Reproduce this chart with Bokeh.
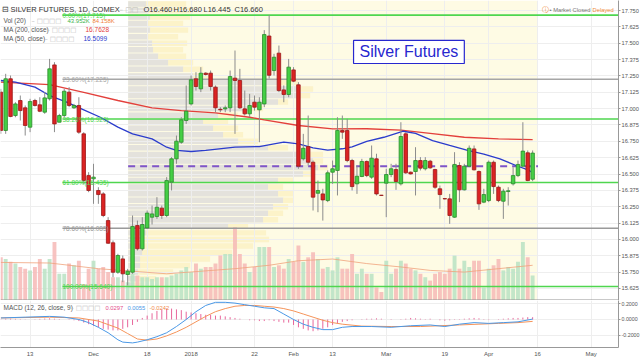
from bokeh.plotting import figure
from bokeh.models import Range1d, FixedTicker, Grid, Label, PrintfTickFormatter, ColumnDataSource, Span
from bokeh.layouts import column
from bokeh.embed import file_html
from bokeh.resources import INLINE
from bokeh.core.properties import value

# ---------------- data ----------------
open_p = [17.126,16.833,17.228,16.947,17.062,17.006,16.858,17.062,17.029,16.973,
          17.075,17.334,16.896,16.947,17.126,17.006,17.024,16.807,16.488,16.463,
          16.374,16.348,16.144,15.974,15.749,15.851,15.732,15.749,16.106,15.928,
          16.088,16.170,16.175,16.239,16.183,16.438,16.616,16.743,16.909,17.036,
          17.228,17.151,17.271,17.271,17.164,16.995,16.998,17.006,17.233,17.215,
          16.998,16.960,17.049,16.991,17.036,17.555,17.291,17.424,17.143,17.108,
          17.296,17.182,16.616,16.710,16.590,16.353,16.348,16.297,16.514,16.527,
          16.833,16.833,16.603,16.425,16.481,16.596,16.476,16.616,16.338,16.430,
          16.496,16.534,16.425,16.807,16.514,16.519,16.603,16.540,16.598,16.534,
          16.387,16.312,16.310,16.170,16.565,16.379,16.560,16.692,16.519,16.285,
          16.297,16.590,16.399,16.292,16.366,16.425,16.488,16.560,16.662,16.460]
high_p = [17.151,17.266,17.253,17.049,17.100,17.024,17.075,17.075,17.087,17.126,
          17.380,17.355,16.960,17.151,17.164,17.036,17.087,16.820,16.514,16.578,
          16.399,16.361,16.170,15.992,15.890,15.877,15.775,16.183,16.144,16.170,
          16.221,16.259,16.323,16.259,16.476,16.629,16.794,16.934,17.177,17.253,
          17.278,17.317,17.278,17.291,17.177,17.011,17.024,17.291,17.444,17.304,
          17.138,17.113,17.100,17.087,17.600,17.715,17.419,17.482,17.177,17.380,
          17.317,17.202,16.807,16.947,16.603,16.450,16.387,16.527,16.603,16.934,
          16.947,16.922,16.616,16.565,16.616,16.603,16.718,16.655,16.340,16.540,
          16.578,16.578,16.896,16.820,16.519,16.705,16.629,16.629,16.608,16.540,
          16.412,16.315,16.348,16.667,16.590,16.578,16.718,16.718,16.527,16.387,
          16.603,16.603,16.412,16.387,16.399,16.552,16.603,16.896,16.680,16.680]
low_p = [16.807,16.807,16.934,16.934,16.909,16.794,16.820,17.016,16.973,16.960,
         17.062,16.820,16.896,16.934,17.011,16.998,16.807,16.425,16.361,16.272,
         16.272,16.170,15.966,15.711,15.737,15.673,15.648,15.737,15.915,15.915,
         16.081,16.114,16.157,16.157,16.170,16.374,16.578,16.731,16.883,17.024,
         17.138,17.126,17.253,17.138,16.973,16.973,16.973,16.973,16.807,16.998,
         16.947,16.934,16.985,16.743,17.011,17.230,17.253,17.126,17.049,17.087,
         17.202,16.540,16.603,16.565,16.221,16.208,16.144,16.285,16.425,16.336,
         16.769,16.590,16.374,16.348,16.476,16.476,16.463,16.336,16.333,16.170,
         16.476,16.379,16.412,16.501,16.496,16.336,16.527,16.527,16.540,16.387,
         16.234,16.305,16.119,16.165,16.285,16.374,16.552,16.527,16.226,16.277,
         16.285,16.348,16.285,16.157,16.259,16.412,16.476,16.552,16.445,16.445]
close_p = [16.833,17.228,16.940,17.036,16.985,16.871,17.054,17.024,16.980,17.082,
           17.304,16.883,16.947,17.133,17.024,17.024,16.820,16.450,16.374,16.476,
           16.343,16.183,15.971,15.749,15.877,15.737,15.757,16.099,15.928,16.114,
           16.201,16.195,16.246,16.183,16.450,16.616,16.751,16.914,16.980,17.220,
           17.169,17.271,17.261,17.169,17.006,16.991,17.006,17.245,17.215,17.006,
           16.960,17.024,17.011,17.049,17.566,17.255,17.393,17.138,17.108,17.317,
           17.210,16.560,16.697,16.590,16.323,16.374,16.302,16.509,16.540,16.833,
           16.820,16.603,16.404,16.483,16.596,16.488,16.621,16.348,16.336,16.496,
           16.540,16.443,16.787,16.509,16.501,16.603,16.545,16.603,16.547,16.399,
           16.343,16.310,16.183,16.573,16.379,16.560,16.697,16.532,16.272,16.343,
           16.590,16.404,16.297,16.369,16.372,16.488,16.573,16.675,16.450,16.660]
volume_k = [76,73,68,65,59,56,53,59,73,56,
            73,103,47,47,65,62,70,29,56,70,
            56,59,50,41,41,35,32,47,44,41,
            41,38,41,41,41,44,47,53,59,50,
            65,56,59,59,65,79,82,82,129,82,
            65,50,59,94,94,94,59,62,56,73,
            68,97,68,76,85,73,56,59,53,76,
            56,56,82,47,56,47,47,23,15,70,
            47,56,70,65,56,53,47,41,35,47,
            50,47,56,79,56,70,59,70,70,23,
            56,62,73,53,59,56,68,103,76,44]
volma_idx = [0, 10, 20, 34, 48, 55, 61, 68, 75, 82, 88, 95, 102, 109]
volma_k = [67, 66, 56, 47, 56, 62, 70, 73, 65, 59, 53, 50, 56, 62]

ma200_idx = [0, 10, 17, 24, 31, 37, 44, 51, 54, 61, 68, 75, 82, 88, 95, 102, 109]
ma200_val = [17.202, 17.184, 17.125, 17.062, 17.006, 16.985, 16.968, 16.934, 16.914,
             16.871, 16.845, 16.846, 16.836, 16.810, 16.781, 16.769, 16.7628]
ma50_idx = [0, 3, 7, 10, 13.5, 17, 20.4, 24, 27, 31, 34, 36, 39, 42, 48, 53, 56, 58,
            61, 64, 67, 70, 72, 75, 78.5, 82.5, 85, 88.5, 92, 95.5, 99, 102.3, 105.6, 108.3, 109]
ma50_val = [17.215, 17.202, 17.164, 17.100, 17.049, 16.991, 16.934, 16.858, 16.807, 16.769,
            16.705, 16.680, 16.672, 16.680, 16.705, 16.710, 16.731, 16.743, 16.731, 16.700,
            16.682, 16.693, 16.708, 16.750, 16.781, 16.827, 16.810, 16.756, 16.718, 16.682,
            16.652, 16.616, 16.565, 16.527, 16.5099]

macd_idx = [0,5,10,13,16,18,20,22,24,25,27,28,30,32,34,36,38,40,42,44,46,48,50,52,54,
            56,58,60,62,64,66,68,70,72,76,80,84,88,91,94,97,100,103,106,109]
macd_val = [0.02,0.03,0.04,0.03,0.0,-0.04,-0.10,-0.17,-0.26,-0.29,-0.30,-0.29,-0.26,-0.22,
            -0.17,-0.09,0.0,0.10,0.18,0.22,0.22,0.21,0.19,0.17,0.15,0.14,0.07,0.0,-0.06,
            -0.10,-0.13,-0.13,-0.10,-0.09,-0.09,-0.10,-0.08,-0.07,-0.09,-0.06,-0.04,-0.05,
            -0.04,-0.03,0.0055]
signal_idx = [0,10,16,20,24,26,28,30,32,34,36,38,40,42,44,46,48,50,52,54,56,58,60,62,64,
              66,68,70,74,80,86,90,94,98,102,106,109]
signal_val = [0.02,0.03,0.02,-0.02,-0.11,-0.18,-0.25,-0.265,-0.25,-0.21,-0.16,-0.10,-0.03,
              0.04,0.10,0.14,0.17,0.18,0.18,0.17,0.16,0.14,0.11,0.07,0.03,-0.01,-0.04,-0.06,
              -0.085,-0.09,-0.09,-0.08,-0.07,-0.06,-0.05,-0.04,-0.0242]
hist_val = [0.005,0.01,0.01,0.008,0.005,0.003,0.0,0.004,0.008,0.012,0.015,0.01,0.006,0.0,-0.005,
            -0.01,-0.02,-0.04,-0.06,-0.08,-0.10,-0.12,-0.13,-0.14,-0.14,-0.12,-0.10,-0.07,-0.03,
            0.02,0.05,0.08,0.11,0.13,0.14,0.14,0.13,0.12,0.10,0.09,0.08,0.07,
            0.06,0.06,0.05,0.05,0.04,0.03,0.02,0.01,0.0,-0.01,-0.01,-0.02,-0.02,-0.01,-0.02,-0.03,-0.04,
            -0.04,-0.07,-0.10,-0.12,-0.14,-0.15,-0.14,-0.12,-0.10,-0.07,-0.05,-0.03,-0.02,-0.01,0.0,0.005,
            0.01,0.01,0.015,0.01,0.0,-0.005,0.0,0.005,0.01,0.02,0.015,0.01,0.005,0.01,0.0,-0.01,
            -0.015,-0.01,-0.005,0.005,0.01,0.015,0.02,0.015,0.005,-0.005,0.0,0.005,0.01,0.015,
            0.02,0.02,0.025,0.03,0.0297]

vp_price = [17.80,17.75,17.70,17.65,17.60,17.55,17.50,17.45,17.40,17.35,17.30,17.25,17.20,
            17.15,17.10,17.05,17.00,16.95,16.90,16.85,16.80,16.75,16.70,16.65,16.60,16.55,
            16.50,16.45,16.40,16.35,16.30,16.25,16.20,16.15,16.10,16.05,16.00,15.95,15.90,
            15.85,15.80,15.75,15.70,15.65]
vp_gray = [18,20,22,20,22,20,24,25,30,40,55,65,150,170,172,150,120,90,75,85,95,110,140,180,
           185,190,175,150,140,150,155,145,140,135,100,18,16,15,14,12,12,10,8,6]
vp_yellow = [40,45,40,35,38,30,35,30,28,25,20,15,20,15,10,10,15,20,25,25,20,20,20,15,10,10,
             10,15,15,15,10,15,15,15,20,120,125,110,90,70,50,35,20,10]

fib_levels = [17.715, 17.225, 16.920, 16.435, 16.085, 15.640]
fib_labels = ["0.00%(17.715)", "23.60%(17.225)", "38.20%(16.920)", "61.80%(16.435)",
              "78.60%(16.085)", "100.00%(15.640)"]
fib_colors = ["#4fd64f", "#a6a6a6", "#4fd64f", "#4fd64f", "#9a9a9a", "#4fd64f"]
poc_level = 16.56

x_tick_pos = [6, 19, 30, 39, 52, 60, 68, 79, 91, 100, 110, 121]
x_tick_lab = ["13", "Dec", "18", "2018", "22", "Feb", "13", "Mar", "19", "Apr", "16", "May"]
price_ticks = [15.625, 15.75, 15.875, 16.0, 16.125, 16.25, 16.375, 16.5, 16.625, 16.75,
               16.875, 17.0, 17.125, 17.25, 17.375, 17.5, 17.625, 17.75]
macd_ticks = [-0.2, 0.0, 0.2]

# ---------------- layout constants ----------------
FONT = "Liberation Sans"
PX_PER_BAR = 4.88
VP_START, VP_END = 26.1, 110.1
FIB_START = 12.64
xr = Range1d(-0.06, 126.6)
y_lo, y_hi = 15.533, 17.8265

n = len(close_p)
xs = list(range(n))
is_up = [c >= o for o, c in zip(open_p, close_p)]
src = ColumnDataSource(dict(
    x=xs, o=open_p, h=high_p, l=low_p, c=close_p, v=volume_k,
    top=[max(o, c) for o, c in zip(open_p, close_p)],
    bot=[min(o, c) for o, c in zip(open_p, close_p)],
    fill=["#45cf45" if u else "#db2323" for u in is_up],
    edge=["#2b8a2b" if u else "#9b1818" for u in is_up],
    vcol=["#b9e2c3" if u else "#f6b9b6" for u in is_up],
))

def style_axis(a, size):
    a.major_label_text_font_size = size
    a.major_label_text_font = FONT
    a.major_label_text_color = "#555555"
    a.axis_line_color = "#999999"
    a.major_tick_line_color = "#999999"
    a.minor_tick_line_color = None
    a.major_tick_in = 0
    a.major_label_standoff = 1

p = figure(frame_width=618, frame_height=300, x_range=xr, y_range=Range1d(y_lo, y_hi),
           x_axis_location=None, y_axis_location="right", toolbar_location=None,
           output_backend="svg", min_border_left=0, min_border_right=0,
           min_border_top=0, min_border_bottom=0)
p.outline_line_color = None
p.background_fill_color = "white"
p.border_fill_color = "white"
for g in list(p.grid):
    g.visible = False
p.add_layout(Grid(dimension=0, ticker=FixedTicker(ticks=x_tick_pos), grid_line_color="#eeeeee"))
p.add_layout(Grid(dimension=1, ticker=FixedTicker(ticks=price_ticks), grid_line_color="#eeeeee"))
p.extra_y_ranges = {"vol": Range1d(0, 528)}

ax = p.yaxis[0]
ax.ticker = FixedTicker(ticks=price_ticks)
ax.formatter = PrintfTickFormatter(format="%.3f")
style_axis(ax, "5.7px")
ax.major_tick_out = 2

# yellow range background
p.quad(left=[VP_START], right=[VP_END], bottom=[y_lo], top=[y_hi], color="#fefbe4",
       line_color=None, level="image")
# volume profile
vp_l = [VP_START] * len(vp_price)
vp_gr = [VP_START + w / PX_PER_BAR for w in vp_gray]
vp_yr = [VP_START + (g + w) / PX_PER_BAR for g, w in zip(vp_gray, vp_yellow)]
p.quad(left=vp_l, right=vp_gr, bottom=[v - 0.021 for v in vp_price],
       top=[v + 0.021 for v in vp_price], color="#c9c9d3", alpha=0.5, line_color=None,
       level="image")
p.quad(left=vp_gr, right=vp_yr, bottom=[v - 0.021 for v in vp_price],
       top=[v + 0.021 for v in vp_price], color="#fbe9a8", alpha=0.45, line_color=None,
       level="image")

# volume
p.vbar(x="x", width=0.8, top="v", bottom=0, source=src, fill_color="vcol",
       line_color=None, fill_alpha=0.85, y_range_name="vol")
p.line(volma_idx, volma_k, line_color="#f0a27c", line_width=1, alpha=0.8, y_range_name="vol")

# fib lines
for lvl, col in zip(fib_levels, fib_colors):
    p.segment(x0=[FIB_START], x1=[130], y0=[lvl], y1=[lvl], line_color=col, line_width=1.6)
p.segment(x0=[VP_START], x1=[VP_END], y0=[poc_level], y1=[poc_level], line_color="#7f55c8",
          line_width=2, line_dash="7 5")

# MAs
p.line(ma200_idx, ma200_val, line_color="#e3403c", line_width=1.3)
p.line(ma50_idx, ma50_val, line_color="#2b3ccc", line_width=1.3)

# candles
p.segment(x0="x", x1="x", y0="l", y1="h", source=src, line_color="#8c8c8c", line_width=1)
p.vbar(x="x", width=0.72, top="top", bottom="bot", source=src, fill_color="fill",
       line_color="edge", line_width=0.8)

# fib labels
p.text(x=[FIB_START] * len(fib_levels), y=fib_levels, text=fib_labels, text_color=fib_colors,
       text_font=value(FONT), text_font_size="6.5px", text_baseline="middle", text_align="left")

def lab(fig, x, y, t, color="#555555", size="6.5px", font=FONT, **kw):
    fig.add_layout(Label(x=x, y=y, x_units="screen", y_units="screen", text=t,
                         text_color=color, text_font_size=size, text_font=font,
                         text_baseline="middle", **kw))

H = 300
lab(p, 1, H - 9, "\u229f SILVER FUTURES, 1D, COMEX", "#333333", "7.5px")
lab(p, 119, H - 9, "\u2013 \u25a1\u25a1", "#bbbbbb", "7px", "DejaVu Sans")
for xx, t in [(143, "O16.460"), (173, "H16.680"), (203, "L16.445"), (234, "C16.660")]:
    lab(p, xx, H - 9, t, "#333333", "7.5px")
lab(p, 3, H - 20, "Vol (20)", "#555555", "6.5px")
lab(p, 31, H - 20, "\u2013 \u25a1\u25a1\u25a1\u25a1", "#bbbbbb", "6.5px", "DejaVu Sans")
lab(p, 67, H - 20, "43.952K", "#3cb44b", "6px")
lab(p, 92, H - 20, "84.158K", "#f07f3a", "6px")
lab(p, 3, H - 29, "MA (200, close)", "#555555", "6.5px")
lab(p, 46, H - 29, "\u2013 \u25a1\u25a1\u25a1\u25a1", "#bbbbbb", "6.5px", "DejaVu Sans")
lab(p, 85, H - 29, "16.7628", "#e3403c", "6.5px")
lab(p, 3, H - 38, "MA (50, close)", "#555555", "6.5px")
lab(p, 44, H - 38, "\u2013 \u25a1\u25a1\u25a1\u25a1", "#bbbbbb", "6.5px", "DejaVu Sans")
lab(p, 83, H - 38, "16.5099", "#2b3ccc", "6.5px")
lab(p, 541, H - 9, "\u24d8", "#f08a3a", "6.5px", "DejaVu Sans")
lab(p, 549, H - 9, "\u2022 Market Closed", "#777777", "5.8px")
lab(p, 592, H - 9, "Delayed", "#f08a3a", "5.8px")
# current price tag
p.add_layout(Label(x=619, y=H - 153, x_units="screen", y_units="screen", text="16.660",
                   text_color="#1a1a1a", text_font_size="5.7px", text_font=FONT,
                   text_baseline="middle", background_fill_color="#3ed43e", padding=1))
# title box
p.quad(left=[72.3], right=[95.0], bottom=[17.345], top=[17.521], fill_color="white",
       line_color="#2727cf", line_width=1.2)
p.add_layout(Label(x=83.65, y=17.433, text="Silver Futures", text_color="#2727cf",
                   text_font_size="16px", text_font=FONT, text_align="center",
                   text_baseline="middle"))
p.add_layout(Span(location=y_lo + 0.004, dimension="width", line_color="#9a9a9a", line_width=1))

# ---------------- MACD pane ----------------
m = figure(frame_width=618, frame_height=47, x_range=xr, y_range=Range1d(-0.359, 0.2436),
           x_axis_location="below", y_axis_location="right", toolbar_location=None,
           output_backend="svg", min_border_left=0, min_border_right=0,
           min_border_top=0, min_border_bottom=0)
m.outline_line_color = None
for g in list(m.grid):
    g.visible = False
m.add_layout(Grid(dimension=0, ticker=FixedTicker(ticks=x_tick_pos), grid_line_color="#eeeeee"))
m.add_layout(Grid(dimension=1, ticker=FixedTicker(ticks=macd_ticks), grid_line_color="#eeeeee"))
may = m.yaxis[0]
may.ticker = FixedTicker(ticks=macd_ticks)
may.formatter = PrintfTickFormatter(format="%.4f")
style_axis(may, "5.3px")
may.major_tick_out = 2
max_ = m.xaxis[0]
max_.ticker = FixedTicker(ticks=x_tick_pos)
max_.major_label_overrides = {k: v for k, v in zip(x_tick_pos, x_tick_lab)}
style_axis(max_, "6px")
max_.major_tick_out = 0
max_.major_label_standoff = 3

m.segment(x0=xs, x1=xs, y0=[0] * n, y1=hist_val, line_color="#e44c8a", line_width=1, alpha=0.85)
m.line(signal_idx, signal_val, line_color="#f5945a", line_width=1)
m.line(macd_idx, macd_val, line_color="#4a98e6", line_width=1)

MH = 47
lab(m, 3, MH - 7, "MACD (12, 26, close, 9)", "#555555", "6.5px")
lab(m, 70, MH - 7, "\u2013 \u25a1\u25a1\u25a1\u25a1", "#bbbbbb", "6.5px", "DejaVu Sans")
lab(m, 105, MH - 7, "0.0297", "#e44c8a", "5.8px")
lab(m, 127, MH - 7, "0.0055", "#4a98e6", "5.8px")
lab(m, 149, MH - 7, "-0.0242", "#f08a4b", "5.8px")

layout = column(p, m, spacing=0)
open("out.html", "w").write(file_html(layout, INLINE))
